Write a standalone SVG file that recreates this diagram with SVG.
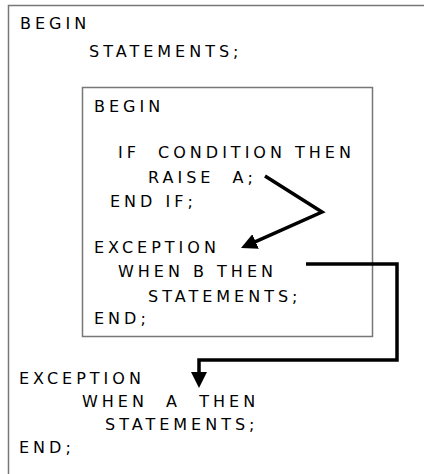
<svg xmlns="http://www.w3.org/2000/svg" width="424" height="474" viewBox="0 0 424 474">
<defs>
<style>
.t{font-family:"DejaVu Sans","Verdana",sans-serif;font-size:16px;letter-spacing:4px;fill:#000;white-space:pre}
.box{fill:none;stroke:#777;stroke-width:1.5}
.conn{fill:none;stroke:#000;stroke-width:3.5;stroke-linejoin:miter}
</style>
<marker id="ah" markerUnits="userSpaceOnUse" viewBox="0 0 16 16" markerWidth="16" markerHeight="16" refX="8" refY="8" orient="auto">
<path d="M0,0 L16,8 L0,16 z" fill="#000"/>
</marker>
</defs>
<rect width="424" height="474" fill="#fff"/>
<g id="outer-block">
<rect class="box" x="8.5" y="5.5" width="440" height="490"/>
<text class="t" x="20" y="29">BEGIN</text>
<text class="t" x="89" y="57">STATEMENTS;</text>
<text class="t" x="19" y="384">EXCEPTION</text>
<text class="t" x="82" y="407">WHEN  A  THEN</text>
<text class="t" x="105" y="430">STATEMENTS;</text>
<text class="t" x="19" y="453">END;</text>
</g>
<g id="inner-block">
<rect class="box" x="82.5" y="87.5" width="290" height="249"/>
<text class="t" x="94" y="112">BEGIN</text>
<text class="t" x="118" y="158">IF  CONDITION THEN</text>
<text class="t" x="148" y="183">RAISE  A;</text>
<text class="t" x="110" y="207">END IF;</text>
<text class="t" x="94" y="253">EXCEPTION</text>
<text class="t" x="118" y="277">WHEN B THEN</text>
<text class="t" x="148" y="302">STATEMENTS;</text>
<text class="t" x="94" y="324">END;</text>
</g>
<g id="connectors">
<path class="conn" d="M265,176 L322,212 L248.3,244.8" marker-end="url(#ah)"/>
<path class="conn" d="M306,264 H397 V360 H199 V380" marker-end="url(#ah)"/>
</g>
</svg>
